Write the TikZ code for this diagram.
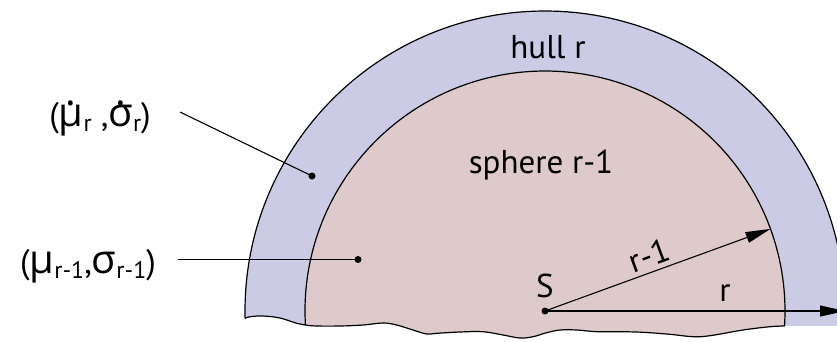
\documentclass[tikz,border=0pt]{standalone}
\usepackage{fontspec}
\setmainfont{PT Sans}
\newfontfamily\grk{Open Sans}
\usetikzlibrary{arrows.meta,calc}
\definecolor{hullcol}{RGB}{203,203,230}
\definecolor{spherecol}{RGB}{222,202,202}
\newcommand\gr[1]{{\grk\fontsize{40}{40}\selectfont #1}}
\newcommand\dotacc[1]{\ooalign{#1\cr\hidewidth\raisebox{0.52em}{.}\hidewidth\cr}}
\newcommand\sbs[1]{\raisebox{-0.17em}{\fontsize{24}{24}\selectfont #1}}
\tikzset{
  outline/.style={line width=1.2pt, black},
  leader/.style={line width=1.1pt, black},
  dotnode/.style={circle, fill=black, inner sep=0pt, minimum size=7pt},
  lbl/.style={inner sep=0pt, font=\fontsize{33}{36}\selectfont},
  biglbl/.style={inner sep=0pt, font=\fontsize{34}{38}\selectfont, anchor=base},
  arr/.style={line width=1.1pt, -{Triangle[length=25pt,width=11pt]}},
}
\begin{document}
\begin{tikzpicture}[x=1pt,y=-1pt,line join=round]
\useasboundingbox (0,0) rectangle (837,341);
\clip (0,0) rectangle (837,341);
\coordinate (c) at (545,311);
% fills
\fill[hullcol] (c) circle[radius=300];
\fill[spherecol] (c) circle[radius=240];
\fill[white] (235,318.3) -- (245,318.3) -- plot[smooth,tension=0.6] coordinates {(245,318.3) (250,316.7) (263,316) (280,318) (296.7,323.3) (305,325) (316.7,326) (340,326) (363,325) (383,323) (396.7,325) (413,330) (426.7,334) (436.7,333.3) (460,332) (483,331.7) (503,335) (520,338) (533,336.7) (546.7,332.7) (560,330) (576.7,330) (596.7,331.7) (620,331.7) (643,332.3) (670,334.3) (693,336.7) (710,335.7) (743,330) (770,326.7) (784.5,326)} -- (850,326) -- (850,350) -- (235,350) -- cycle;
% outlines
\draw[outline] (c) ++(178.6:300) arc[start angle=178.6, end angle=362.9, radius=300];
\draw[outline] (c) ++(176.66:240) arc[start angle=176.66, end angle=363.58, radius=240];
\draw[outline] plot[smooth,tension=0.6] coordinates {(245,318.3) (250,316.7) (263,316) (280,318) (296.7,323.3) (305,325) (316.7,326) (340,326) (363,325) (383,323) (396.7,325) (413,330) (426.7,334) (436.7,333.3) (460,332) (483,331.7) (503,335) (520,338) (533,336.7) (546.7,332.7) (560,330) (576.7,330) (596.7,331.7) (620,331.7) (643,332.3) (670,334.3) (693,336.7) (710,335.7) (743,330) (770,326.7) (784.5,326)};
% centre and radii
\node[dotnode] (S) at (c) {};
\coordinate (rtip) at (845,311);
\coordinate (r1tip) at ($(c)+(-20:240)$);
\draw[arr] (S.center) -- (rtip);
\draw[arr] (S.center) -- (r1tip);
% labels
\node[lbl, anchor=base] (hull) at (548,58) {hull r};
\node[lbl, anchor=base] (sphere) at (541,173) {sphere r-1};
\node[lbl, anchor=base] (Slab) at (545,297) {S};
\node[lbl, anchor=base] (rlab) at (725,301.5) {r};
\node[lbl, rotate=20] (r1lab) at (649,255) {r-1};
\node[biglbl] (m1) at (100,126) {(\gr{\dotacc{μ}}\sbs{r} ,\gr{\dotacc{σ}}\sbs{r})};
\node[biglbl] (m2) at (88,273) {(\gr{μ}\sbs{r-1},\gr{σ}\sbs{r-1})};
% leaders
\coordinate (l1) at (180,112);
\node[dotnode] (d1) at (312,176) {};
\draw[leader] (l1) -- (d1.center);
\coordinate (l2) at (178,259.5);
\node[dotnode] (d2) at (358,259.5) {};
\draw[leader] (l2) -- (d2.center);
\end{tikzpicture}
\end{document}
